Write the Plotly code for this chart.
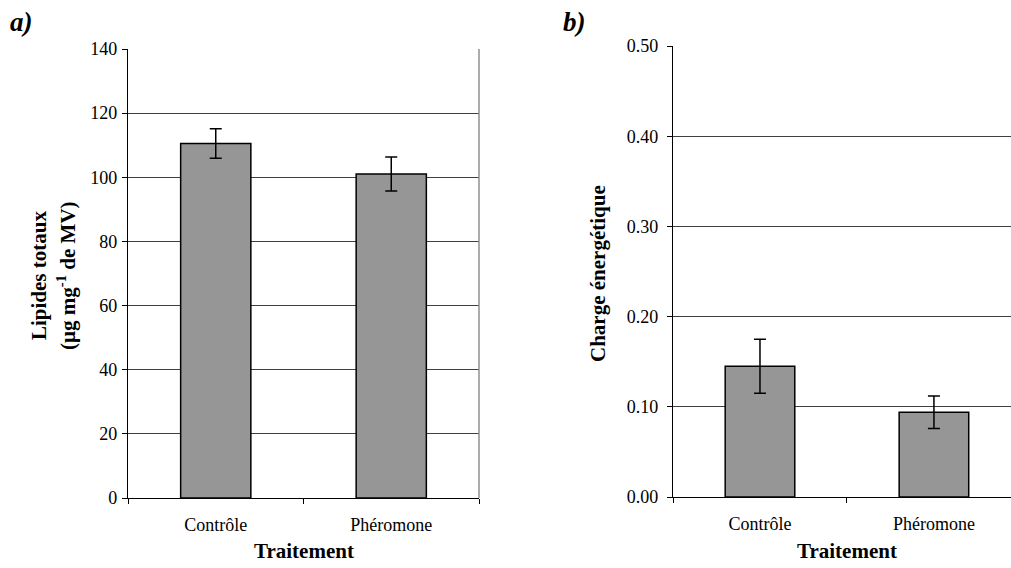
import plotly.graph_objects as go

categories = ["Contrôle", "Phéromone"]
lipides = [110.5, 101.0]
lipides_err = [4.6, 5.3]
charge = [0.145, 0.094]
charge_err = [0.030, 0.018]
ticks_a = [0, 20, 40, 60, 80, 100, 120, 140]
ticks_b = [0.0, 0.1, 0.2, 0.3, 0.4, 0.5]

FONT = "Times New Roman, Liberation Serif, serif"
W, H = 1011, 568

fig = go.Figure()
bar_style = dict(marker=dict(color="#969696", line=dict(color="black", width=1.5)), width=0.4, showlegend=False)
fig.add_trace(go.Bar(x=categories, y=lipides, xaxis="x", yaxis="y",
                     error_y=dict(type="data", array=lipides_err, color="black", thickness=1.5, width=6),
                     **bar_style))
fig.add_trace(go.Bar(x=categories, y=charge, xaxis="x2", yaxis="y2",
                     error_y=dict(type="data", array=charge_err, color="black", thickness=1.5, width=6),
                     **bar_style))

ax_common = dict(showline=True, linecolor="black", linewidth=1.2, ticks="outside", ticklen=5,
                 tickcolor="black", tickfont=dict(family=FONT, size=18, color="black"), automargin=False)

def px(x):
    return x / W

def py(y):
    return 1 - y / H

fig.update_layout(
    width=W, height=H, margin=dict(l=0, r=0, t=0, b=0),
    font=dict(family=FONT, color="black"),
    paper_bgcolor="white", plot_bgcolor="white", bargap=0.6,
    xaxis=dict(domain=[px(128), px(479)], anchor="y", range=[-0.5, 1.5], tickson="boundaries",
               showgrid=False, ticklabelstandoff=10, **ax_common),
    yaxis=dict(domain=[py(498), py(49)], anchor="x", range=[0, 140], tickvals=ticks_a,
               ticktext=[str(v) for v in ticks_a], showgrid=True, gridcolor="#404040", gridwidth=1,
               zeroline=False, ticklabelstandoff=1, **ax_common),
    xaxis2=dict(domain=[px(673), 1.0], anchor="y2", range=[-0.5, 1.443], tickson="boundaries",
                showgrid=False, ticklabelstandoff=10, **ax_common),
    yaxis2=dict(domain=[py(497), py(46)], anchor="x2", range=[0, 0.5], tickvals=ticks_b,
                ticktext=[f"{v:.2f}" for v in ticks_b], showgrid=True, gridcolor="#404040", gridwidth=1,
                zeroline=False, ticklabelstandoff=5, **ax_common),
)

fig.add_shape(type="line", xref="paper", yref="paper", x0=px(479), x1=px(479), y0=py(498), y1=py(49),
              line=dict(color="#909090", width=1.5))

title_font = dict(family=FONT, size=21, color="black")
ann = [
    dict(x=px(8), y=py(22), text="<b><i>a)</i></b>", font=dict(family=FONT, size=27, color="black"),
         xanchor="left", yanchor="middle"),
    dict(x=px(561), y=py(22), text="<b><i>b)</i></b>", font=dict(family=FONT, size=27, color="black"),
         xanchor="left", yanchor="middle"),
    dict(x=px(39), y=py(276), text="<b>Lipides totaux</b>", textangle=-90,
         font=title_font, xanchor="center", yanchor="middle"),
    dict(x=px(66), y=py(276), text="<b>(µg mg<sup>-1</sup> de MV)</b>", textangle=-90,
         font=title_font, xanchor="center", yanchor="middle"),
    dict(x=px(598), y=py(274), text="<b>Charge énergétique</b>", textangle=-90,
         font=title_font, xanchor="center", yanchor="middle"),
    dict(x=px(304), y=py(551), text="<b>Traitement</b>", font=title_font, xanchor="center", yanchor="middle"),
    dict(x=px(847), y=py(551), text="<b>Traitement</b>", font=title_font, xanchor="center", yanchor="middle"),
]
for a in ann:
    a.update(xref="paper", yref="paper", showarrow=False)
fig.update_layout(annotations=ann)

fig.write_html("out.html")
